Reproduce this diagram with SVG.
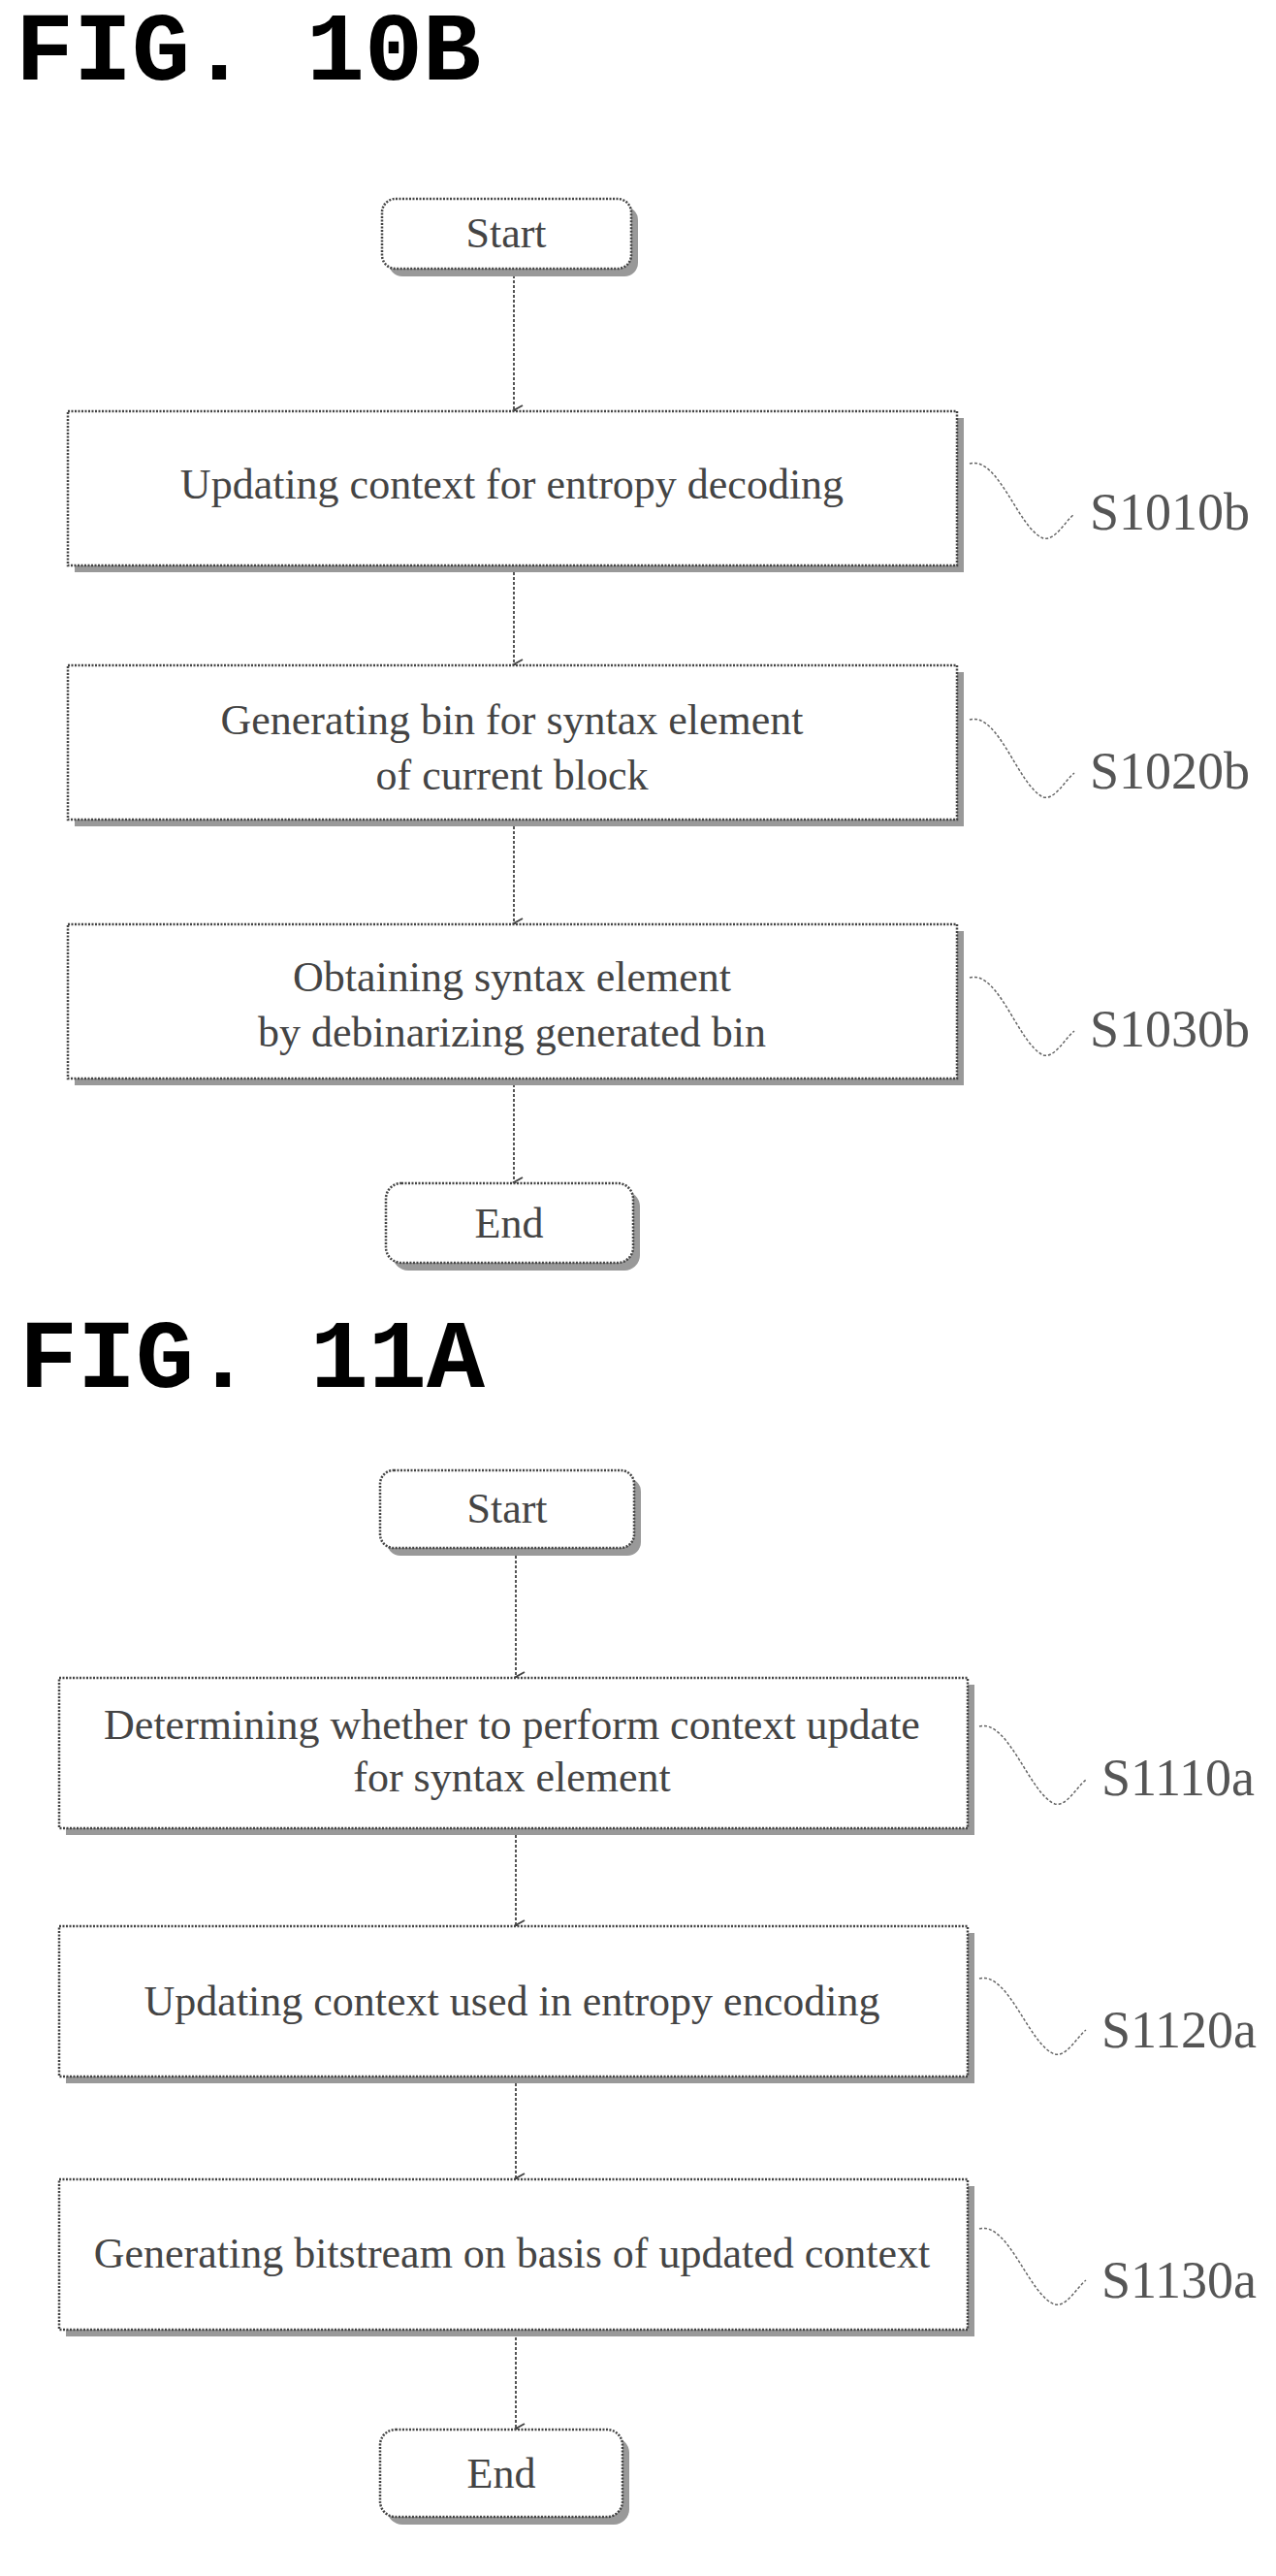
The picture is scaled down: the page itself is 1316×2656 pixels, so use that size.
<svg xmlns="http://www.w3.org/2000/svg" width="1316" height="2656" viewBox="0 0 1316 2656">
<defs>
<marker id="ah" markerWidth="14" markerHeight="14" refX="7" refY="12" orient="auto-start-reverse" markerUnits="userSpaceOnUse" viewBox="0 0 14 14">
<path d="M2,3 L7,12 L12,3" fill="none" stroke="#444" stroke-width="2"/>
</marker>
</defs>
<style>
.box{fill:#fff;stroke:#444;stroke-width:2.5;stroke-dasharray:2 1.5}
.sh{fill:#999}
.t{font-family:"Liberation Serif",serif;font-size:44px;fill:#444;text-anchor:middle}
.lbl{font-family:"Liberation Serif",serif;font-size:54px;fill:#555}
.fig{font-family:"Liberation Mono",monospace;font-weight:bold;font-size:100px;fill:#000}
.c{stroke:#555;stroke-width:2;stroke-dasharray:3 2;fill:none}
.sq{stroke:#666;stroke-width:1.5;stroke-dasharray:3 2;fill:none}
</style>
<rect width="1316" height="2656" fill="#fff"/>
<text class="fig" x="16" y="82">FIG. 10B</text>
<text class="fig" x="20" y="1430">FIG. 11A</text>

<g id="connectors">
<line class="c" x1="530" y1="284" x2="530" y2="423" marker-end="url(#ah)"/>
<line class="c" x1="530" y1="590" x2="530" y2="685" marker-end="url(#ah)"/>
<line class="c" x1="530" y1="852" x2="530" y2="952" marker-end="url(#ah)"/>
<line class="c" x1="530" y1="1118" x2="530" y2="1219" marker-end="url(#ah)"/>
<line class="c" x1="532" y1="1604" x2="532" y2="1729" marker-end="url(#ah)"/>
<line class="c" x1="532" y1="1892" x2="532" y2="1985" marker-end="url(#ah)"/>
<line class="c" x1="532" y1="2148" x2="532" y2="2246" marker-end="url(#ah)"/>
<line class="c" x1="532" y1="2410" x2="532" y2="2504" marker-end="url(#ah)"/>
</g>

<g id="start10b"><rect class="sh" x="401" y="213" width="257" height="72" rx="14"/><rect class="box" x="394" y="205" width="257" height="72" rx="14"/><text class="t" x="522" y="255">Start</text></g>
<g id="s1010b"><rect class="sh" x="77" y="431" width="917" height="159"/><rect class="box" x="70" y="424" width="917" height="159"/><text class="t" x="528" y="514">Updating context for entropy decoding</text>
<path class="sq" d="M1000,478 C1030,470 1050,545 1076,555 C1088,558 1098,538 1108,530"/><text class="lbl" x="1124" y="546">S1010b</text></g>
<g id="s1020b"><rect class="sh" x="77" y="693" width="917" height="159"/><rect class="box" x="70" y="686" width="917" height="159"/><text class="t" x="528" y="757">Generating bin for syntax element</text><text class="t" x="528" y="814">of current block</text>
<path class="sq" d="M1000,742 C1030,734 1050,810 1076,822 C1088,825 1098,805 1108,797"/><text class="lbl" x="1124" y="813">S1020b</text></g>
<g id="s1030b"><rect class="sh" x="77" y="960" width="917" height="159"/><rect class="box" x="70" y="953" width="917" height="159"/><text class="t" x="528" y="1022">Obtaining syntax element</text><text class="t" x="528" y="1079">by debinarizing generated bin</text>
<path class="sq" d="M1000,1008 C1030,1000 1050,1076 1076,1088 C1088,1091 1098,1071 1108,1063"/><text class="lbl" x="1124" y="1079">S1030b</text></g>
<g id="end10b"><rect class="sh" x="405" y="1228" width="255" height="82" rx="16"/><rect class="box" x="398" y="1220" width="255" height="82" rx="16"/><text class="t" x="525" y="1276">End</text></g>

<g id="start11a"><rect class="sh" x="399" y="1524" width="262" height="80" rx="14"/><rect class="box" x="392" y="1516" width="262" height="80" rx="14"/><text class="t" x="523" y="1570">Start</text></g>
<g id="s1110a"><rect class="sh" x="68" y="1737" width="937" height="155"/><rect class="box" x="61" y="1730" width="937" height="155"/><text class="t" x="528" y="1793">Determining whether to perform context update</text><text class="t" x="528" y="1847">for syntax element</text>
<path class="sq" d="M1010,1780 C1040,1772 1062,1850 1088,1860 C1100,1863 1110,1843 1120,1835"/><text class="lbl" x="1136" y="1851">S1110a</text></g>
<g id="s1120a"><rect class="sh" x="68" y="1993" width="937" height="155"/><rect class="box" x="61" y="1986" width="937" height="155"/><text class="t" x="528" y="2078">Updating context used in entropy encoding</text>
<path class="sq" d="M1010,2040 C1040,2032 1062,2110 1088,2118 C1100,2121 1110,2101 1120,2093"/><text class="lbl" x="1136" y="2111">S1120a</text></g>
<g id="s1130a"><rect class="sh" x="68" y="2254" width="937" height="155"/><rect class="box" x="61" y="2247" width="937" height="155"/><text class="t" x="528" y="2338">Generating bitstream on basis of updated context</text>
<path class="sq" d="M1010,2298 C1040,2290 1062,2368 1088,2376 C1100,2379 1110,2359 1120,2351"/><text class="lbl" x="1136" y="2369">S1130a</text></g>
<g id="end11a"><rect class="sh" x="399" y="2513" width="250" height="90" rx="16"/><rect class="box" x="392" y="2505" width="250" height="90" rx="16"/><text class="t" x="517" y="2565">End</text></g>
</svg>
